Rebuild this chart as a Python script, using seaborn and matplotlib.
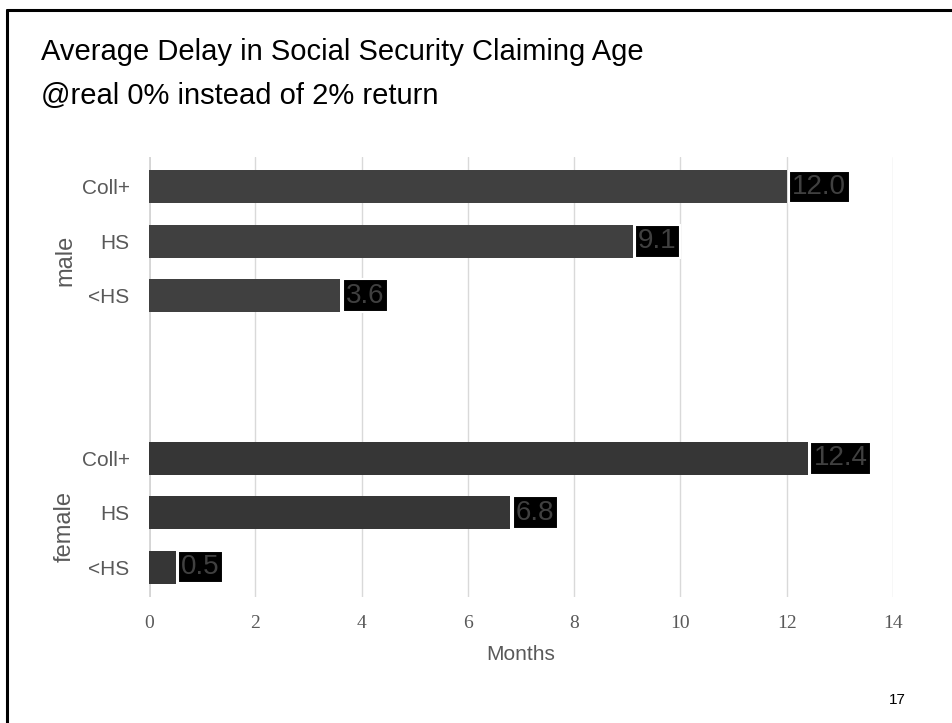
import matplotlib
matplotlib.use("Agg")
import matplotlib.pyplot as plt
import matplotlib.transforms as mtransforms
import seaborn as sns
import pandas as pd
from matplotlib.lines import Line2D

# ---- data ----
genders = ["male", "male", "male", "female", "female", "female"]
education = ["Coll+", "HS", "<HS", "Coll+", "HS", "<HS"]
months = [12.0, 9.1, 3.6, 12.4, 6.8, 0.5]
x_ticks = [0, 2, 4, 6, 8, 10, 12, 14]

title_line1 = "Average Delay in Social Security Claiming Age"
title_line2 = "@real 0% instead of 2% return"
page_number = "17"

df = pd.DataFrame({"gender": genders, "education": education, "months": months})
df["key"] = df["gender"] + " " + df["education"]
order = list(df["key"][:3]) + ["_gap1", "_gap2"] + list(df["key"][3:])

sns.set_theme(style="white")
W, H = 953, 723
fig = plt.figure(figsize=(W / 100, H / 100), dpi=100)
ax = fig.add_axes([149 / W, 1 - 597 / H, (893 - 149) / W, (597 - 157) / H])

sns.barplot(data=df, y="key", x="months", hue="gender", order=order,
            palette={"male": "#404040", "female": "#363636"},
            orient="h", dodge=False, width=0.61, legend=False, ax=ax,
            saturation=1, edgecolor="none")

ax.set_xlim(0, 14)
ax.set_ylim(len(order) - 1 + 0.55, -0.55)
ax.set_xticks(x_ticks)
ax.set_xticklabels([str(t) for t in x_ticks], family="Liberation Serif",
                   fontsize=14, color="#595959")
ax.xaxis.grid(True, color="#d9d9d9", linewidth=1)
ax.set_axisbelow(True)
for s in ax.spines.values():
    s.set_visible(False)
ax.axvline(0, color="#d0d0d0", linewidth=2, zorder=0.5)
ax.tick_params(axis="x", length=0, pad=13)
ax.tick_params(axis="y", length=0, pad=14)

ylabels = [k.split(" ", 1)[1] if not k.startswith("_") else "" for k in order]
ax.set_yticks(range(len(order)))
ax.set_yticklabels(ylabels, family="Liberation Sans", fontsize=15, color="#595959")
ax.set_ylabel("")
ax.set_xlabel("Months", family="Liberation Sans", fontsize=15, color="#595959",
              labelpad=9)

for cont in ax.containers:
    ax.bar_label(cont, fmt="%.1f", padding=4, family="Liberation Sans",
                 fontsize=20, color="#404040",
                 bbox=dict(boxstyle="square,pad=0.12", facecolor="black",
                           edgecolor="white", linewidth=1.5))

# group labels
trans = mtransforms.blended_transform_factory(ax.transAxes, ax.transData)
group_pos = {"male": 1.35, "female": 6.25}
for g, yc in group_pos.items():
    ax.text(-(149 - 65) / (893 - 149), yc, g, transform=trans,
            family="Liberation Sans", fontsize=17, color="#595959",
            rotation=90, ha="center", va="center")

fig.text(41 / W, 1 - 60 / H, title_line1, family="Liberation Sans", fontsize=21,
         color="black", ha="left", va="baseline")
fig.text(41 / W, 1 - 104 / H, title_line2, family="Liberation Sans", fontsize=21,
         color="black", ha="left", va="baseline")
fig.text(897 / W, 1 - 700 / H, page_number, family="Liberation Sans", fontsize=11,
         color="black", ha="center", va="center")

# slide frame
fig.add_artist(Line2D([7 / W, 1], [1 - 10 / H, 1 - 10 / H], color="black", linewidth=2.2,
                      transform=fig.transFigure))
fig.add_artist(Line2D([7 / W, 7 / W], [0, 1 - 10 / H], color="black", linewidth=2.2,
                      transform=fig.transFigure))

fig.savefig("out.png", dpi=100)
